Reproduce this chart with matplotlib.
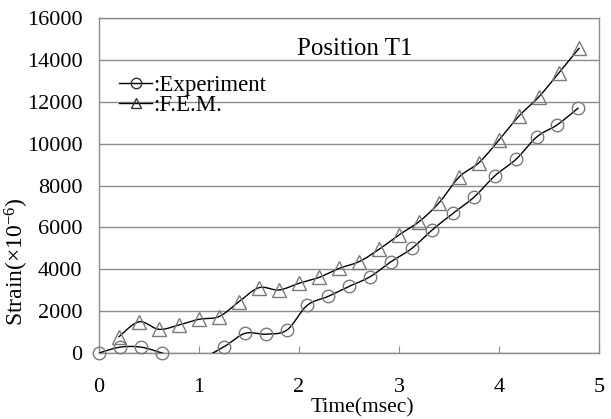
import numpy as np
import matplotlib
matplotlib.use("Agg")
import matplotlib.pyplot as plt
from matplotlib.lines import Line2D

plt.rcParams['font.family'] = ['Liberation Serif', 'DejaVu Serif']
plt.rcParams['mathtext.fontset'] = 'custom'
plt.rcParams['mathtext.rm'] = 'Liberation Serif'
plt.rcParams['mathtext.it'] = 'Liberation Serif:italic'

# ---- data ----
exp_time = [0.0, 0.21, 0.42, 0.63, 0.83, 1.04, 1.25, 1.46, 1.67, 1.88, 2.08, 2.29,
            2.50, 2.71, 2.92, 3.13, 3.33, 3.54, 3.75, 3.96, 4.17, 4.38, 4.58, 4.79]
exp_strain = [0, 280, 280, 0, -300, -200, 300, 940, 900, 1100, 2270, 2700,
              3180, 3640, 4360, 5000, 5870, 6670, 7440, 8470, 9250, 10330, 10890, 11690]
fem_time = [0.2, 0.4, 0.6, 0.8, 1.0, 1.2, 1.4, 1.6, 1.8, 2.0, 2.2, 2.4,
            2.6, 2.8, 3.0, 3.2, 3.4, 3.6, 3.8, 4.0, 4.2, 4.4, 4.6, 4.8]
fem_strain = [780, 1490, 1130, 1340, 1610, 1740, 2450, 3120, 3010, 3330, 3610, 4040,
              4360, 4950, 5640, 6270, 7170, 8400, 9090, 10170, 11320, 12240, 13390, 14550]
x_ticks = [0, 1, 2, 3, 4, 5]
y_ticks = [0, 2000, 4000, 6000, 8000, 10000, 12000, 14000, 16000]


def smooth(x, y, n=20):
    x = np.asarray(x, float)
    y = np.asarray(y, float)
    px = np.concatenate([[x[0]], x, [x[-1]]])
    py = np.concatenate([[y[0]], y, [y[-1]]])
    xs, ys = [], []
    t = np.linspace(0, 1, n)
    for i in range(1, len(px) - 2):
        p0x, p1x, p2x, p3x = px[i - 1], px[i], px[i + 1], px[i + 2]
        p0y, p1y, p2y, p3y = py[i - 1], py[i], py[i + 1], py[i + 2]
        c1x = p1x + (p2x - p0x) / 6
        c1y = p1y + (p2y - p0y) / 6
        c2x = p2x - (p3x - p1x) / 6
        c2y = p2y - (p3y - p1y) / 6
        bx = (1 - t) ** 3 * p1x + 3 * (1 - t) ** 2 * t * c1x + 3 * (1 - t) * t ** 2 * c2x + t ** 3 * p2x
        by = (1 - t) ** 3 * p1y + 3 * (1 - t) ** 2 * t * c1y + 3 * (1 - t) * t ** 2 * c2y + t ** 3 * p2y
        xs.append(bx)
        ys.append(by)
    return np.concatenate(xs), np.concatenate(ys)


fig = plt.figure(figsize=(6.11, 4.19), dpi=100)
ax = fig.add_axes([99 / 611, 1 - 353 / 419, 500 / 611, 335 / 419])

grid_c = '#8c8c8c'
mark_c = '#7a7a7a'

ax.set_xlim(0, 5)
ax.set_ylim(0, 16000)
ax.set_yticks(y_ticks)
ax.set_xticks(x_ticks)
ax.yaxis.grid(True, color=grid_c, linewidth=1.0)
ax.set_axisbelow(True)
for s in ax.spines.values():
    s.set_color(grid_c)
    s.set_linewidth(1.0)

ax.tick_params(axis='y', length=0, pad=12, labelsize=16)
ax.tick_params(axis='x', direction='in', length=5, color=grid_c, pad=18, labelsize=16)

# lines
sx, sy = smooth(exp_time, exp_strain)
ax.plot(sx, sy, color='black', linewidth=1.0, zorder=3)
fx, fy = smooth(fem_time, fem_strain)
ax.plot(fx, fy, color='black', linewidth=1.0, zorder=3)

# markers
et = np.array(exp_time)
es = np.array(exp_strain)
m = es >= 0
ax.plot(et[m], es[m], linestyle='none', marker='o', markersize=9,
        markerfacecolor='none', markeredgecolor=mark_c, markeredgewidth=1.0,
        clip_on=False, zorder=4)
ax.plot(fem_time, fem_strain, linestyle='none', marker='^', markersize=10,
        markerfacecolor='none', markeredgecolor=mark_c, markeredgewidth=1.0,
        clip_on=False, zorder=4)

h1 = Line2D([], [], color='black', linewidth=1.0, marker='o', markersize=7.5,
            markerfacecolor='none', markeredgecolor='#333333')
h2 = Line2D([], [], color='black', linewidth=1.0, marker='^', markersize=7.5,
            markerfacecolor='none', markeredgecolor='#333333')
ax.legend([h1, h2], [':Experiment', ':F.E.M.'], loc='upper left',
          bbox_to_anchor=(0.04, 0.83), frameon=False, fontsize=16.5,
          handlelength=1.45, handletextpad=0.05, labelspacing=-0.04,
          borderpad=0, borderaxespad=0)

ax.text(2.56, 0.8896, 'Position T1', transform=ax.get_xaxis_transform(),
        ha='center', va='baseline', fontsize=18)

ax.set_xlabel('Time(msec)', fontsize=15.5)
ax.xaxis.set_label_coords(0.527, -0.134)
ax.set_ylabel('Strain(×10$^{-6}$)', fontsize=17)
ax.yaxis.set_label_coords(-0.136, 0.272)

fig.savefig('out.png', dpi=100)
